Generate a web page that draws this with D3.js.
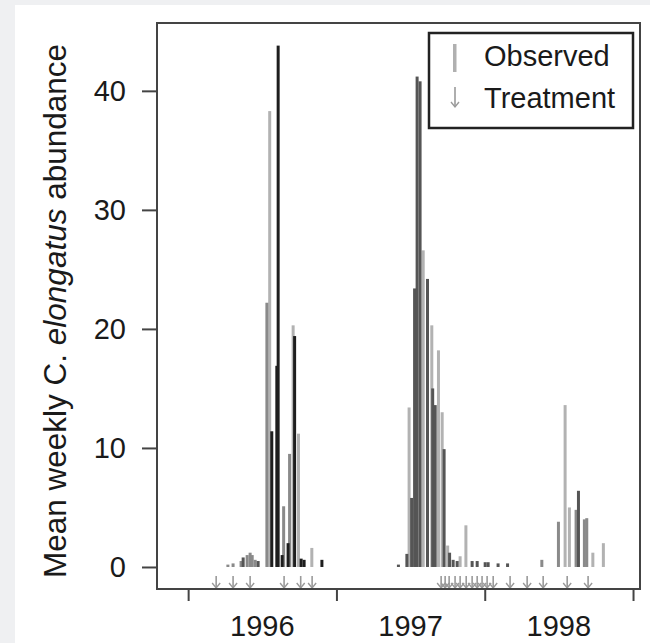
<!DOCTYPE html>
<html>
<head>
<meta charset="utf-8">
<script src="https://cdn.jsdelivr.net/npm/d3@7"></script>
<style>
  html, body { margin: 0; padding: 0; background: #eff0f2; }
  svg { display: block; }
  text { font-family: "Liberation Sans", Arial, Helvetica, sans-serif; fill: #1a1a1a; }
</style>
</head>
<body>
<svg id="chart" width="650" height="643"></svg>
<script>
// ---- data (decimal year, mean weekly abundance) ----
const observedLight = [
  [1996.550, 38.3], [1996.708, 20.3], [1996.744, 11.2], [1996.834, 1.6],
  [1997.490, 13.4], [1997.585, 26.6], [1997.643, 20.3], [1997.688, 18.2],
  [1997.713, 13.0], [1997.750, 1.8], [1997.834, 0.9], [1997.873, 3.5],
  [1998.542, 13.6], [1998.571, 5.0], [1998.729, 1.2], [1998.800, 2.0]
];
const observedMid = [
  [1996.268, 0.2], [1996.303, 0.3], [1996.357, 0.5], [1996.398, 1.0],
  [1996.418, 1.2], [1996.432, 1.0], [1996.452, 0.6], [1996.531, 22.2],
  [1996.644, 5.1], [1996.684, 9.5], [1998.385, 0.6], [1998.497, 3.8],
  [1998.616, 4.8], [1998.672, 4.0], [1998.688, 4.1]
];
const observedDark = [
  [1996.371, 0.8], [1996.472, 0.5], [1997.418, 0.2], [1997.475, 1.1],
  [1997.507, 5.8], [1997.527, 23.4], [1997.544, 41.2], [1997.564, 40.8],
  [1997.614, 24.2], [1997.649, 15.0], [1997.666, 13.6], [1997.726, 9.9],
  [1997.763, 1.2], [1997.787, 0.6], [1997.814, 0.5], [1997.915, 0.5],
  [1997.949, 0.5], [1998.003, 0.4], [1998.023, 0.4], [1998.090, 0.3],
  [1998.154, 0.3], [1998.632, 6.4]
];
const observedBlack = [
  [1996.564, 11.4], [1996.598, 16.9], [1996.607, 43.8], [1996.634, 1.0],
  [1996.674, 2.0], [1996.718, 19.4], [1996.762, 0.7], [1996.782, 0.6],
  [1996.902, 0.6]
];
const treatments = [
  1996.189, 1996.303, 1996.418, 1996.647, 1996.759, 1996.836,
  1997.706, 1997.733, 1997.760, 1997.800, 1997.834, 1997.875, 1997.915,
  1997.949, 1997.982, 1998.016, 1998.057, 1998.171, 1998.286, 1998.394,
  1998.556, 1998.697
];
const yTicks = [0, 10, 20, 30, 40];
const yearTicks = [1996, 1997, 1998, 1999];
const yearLabels = ["1996", "1997", "1998"];
const legendLabels = ["Observed", "Treatment"];

// ---- layout ----
const svg = d3.select("#chart");
svg.append("rect").attr("x", 15).attr("y", 5).attr("width", 635).attr("height", 638).attr("fill", "#fff");

const box = { left: 157, right: 640, top: 23, bottom: 589 };
const x = d3.scaleLinear().domain([1995.79, 1999.047]).range([box.left, box.right]);
const y = d3.scaleLinear().domain([-1.85, 45.7]).range([box.bottom, box.top]);

const barW = 3;
const groups = [
  { data: observedLight, color: "#b2b2b2" },
  { data: observedMid, color: "#8a8a8a" },
  { data: observedDark, color: "#555555" },
  { data: observedBlack, color: "#1e1e1e" }
];
const gBars = svg.append("g");
groups.forEach(g => {
  gBars.selectAll(null).data(g.data).enter().append("rect")
    .attr("x", d => x(d[0]) - barW / 2)
    .attr("y", d => y(d[1]))
    .attr("width", barW)
    .attr("height", d => y(0) - y(d[1]))
    .attr("fill", g.color);
});

// treatment arrows
function arrow(sel, cx, top, len, color) {
  sel.append("line").attr("x1", cx).attr("x2", cx).attr("y1", top).attr("y2", top + len)
    .attr("stroke", color).attr("stroke-width", 1.6);
  sel.append("path")
    .attr("d", `M${cx - 4},${top + len - 5}L${cx},${top + len}L${cx + 4},${top + len - 5}`)
    .attr("fill", "none").attr("stroke", color).attr("stroke-width", 1.4);
}
const gArr = svg.append("g");
treatments.forEach(t => arrow(gArr, x(t), y(0) + 9, 12, "#9a9a9a"));

// box
svg.append("rect")
  .attr("x", box.left).attr("y", box.top)
  .attr("width", box.right - box.left).attr("height", box.bottom - box.top)
  .attr("fill", "none").attr("stroke", "#444").attr("stroke-width", 2);

// y axis
const yAxis = d3.axisLeft(y).tickValues(yTicks).tickSize(15).tickPadding(16).tickFormat(d3.format("d"));
const gy = svg.append("g").attr("transform", `translate(${box.left},0)`).call(yAxis);
gy.select(".domain").remove();
gy.selectAll(".tick line").attr("stroke", "#444").attr("stroke-width", 2);
gy.selectAll(".tick text").attr("font-size", 29).attr("fill", "#1a1a1a")
  .attr("font-family", "'Liberation Sans', Arial, sans-serif");

// x axis ticks
const xAxis = d3.axisBottom(x).tickValues(yearTicks).tickSize(12).tickFormat("");
const gx = svg.append("g").attr("transform", `translate(0,${box.bottom})`).call(xAxis);
gx.select(".domain").remove();
gx.selectAll(".tick line").attr("stroke", "#444").attr("stroke-width", 2);

svg.selectAll(null).data(yearLabels).enter().append("text")
  .attr("x", d => x(+d + 0.5))
  .attr("y", 636)
  .attr("text-anchor", "middle")
  .attr("font-size", 29)
  .text(d => d);

// y title
const yt = svg.append("text")
  .attr("transform", `translate(66,${(y(0) + box.top) / 2 + 16}) rotate(-90)`)
  .attr("text-anchor", "middle")
  .attr("font-size", 31.5);
yt.append("tspan").text("Mean weekly ");
yt.append("tspan").text("C. ");
yt.append("tspan").attr("font-style", "italic").text("elongatus");
yt.append("tspan").text(" abundance");

// legend
const lg = svg.append("g");
lg.append("rect").attr("x", 429).attr("y", 33).attr("width", 204).attr("height", 95)
  .attr("fill", "#fff").attr("stroke", "#222").attr("stroke-width", 2.5);
lg.append("rect").attr("x", 453).attr("y", 44).attr("width", 3.5).attr("height", 28).attr("fill", "#b0b0b0");
arrow(lg, 455, 87, 20, "#9a9a9a");
lg.selectAll(null).data(legendLabels).enter().append("text")
  .attr("x", 484).attr("y", (d, i) => 66 + i * 42)
  .attr("font-size", 29).text(d => d);
</script>
</body>
</html>
